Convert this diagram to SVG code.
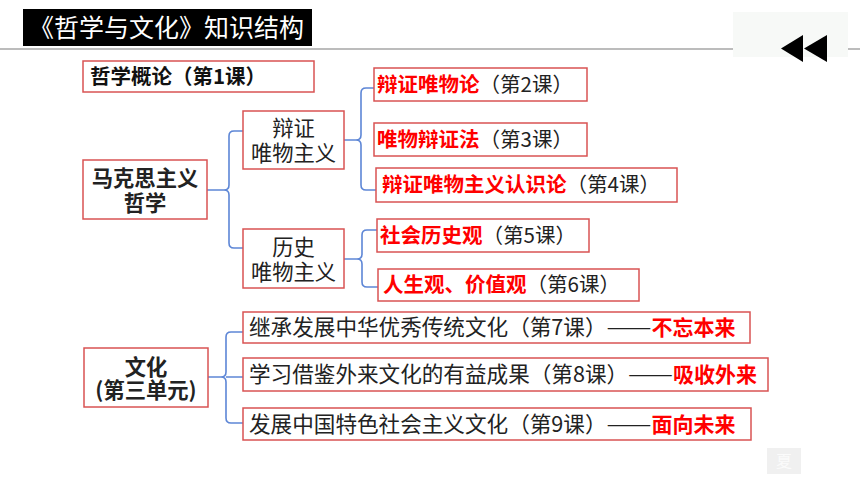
<svg xmlns="http://www.w3.org/2000/svg" width="860" height="484" viewBox="0 0 860 484">
<style>
text{font-family:"Noto Sans CJK SC","Noto Sans",sans-serif;}
.box{fill:#fff;stroke:#d95353;stroke-width:1.5;}
.con{fill:none;stroke:#5d86d6;stroke-width:1.6;}
.t{font-size:20.5px;fill:#222;}
.b{font-weight:bold;fill:#111;}
.r{font-weight:bold;fill:#ff0000;}
.m{font-size:21.6px;fill:#222;}
.m .r{font-size:21px;}
.c{font-size:21.3px;fill:#222;}
</style>
<rect width="860" height="484" fill="#fff"/>
<g id="header">
<line x1="0" y1="49" x2="860" y2="49" stroke="#a6a6a6" stroke-width="1.5"/>
<rect x="23" y="9" width="289" height="37" fill="#000"/>
<text x="29" y="37" font-size="25" fill="#fff">《哲学与文化》知识结构</text>
<rect x="733" y="12" width="115" height="45" fill="#f7f9f7"/>
<polygon points="781,48.5 803,35 803,62" fill="#000"/>
<polygon points="804,48.5 827,35 827,62" fill="#000"/>
</g>
<g id="connectors">
<path class="con" d="M207,190 H224 Q229,190 229,185 V136 Q229,131 234,131 H243 M224,190 Q229,190 229,195 V243 Q229,248 234,248 H243"/>
<path class="con" d="M344,140 H356 Q361,140 361,135 V93 Q361,88 366,88 H374 M356,140 Q361,140 361,145 V185 Q361,190 366,190 H376"/>
<path class="con" d="M344,259 H357 Q362,259 362,254 V235 Q362,230 367,230 H377 M357,259 Q362,259 362,264 V282 Q362,287 367,287 H378"/>
<path class="con" d="M208,377 H221 Q226,377 226,372 V337 Q226,332 231,332 H243 M221,377 Q226,377 226,382 V418 Q226,423 231,423 H243 M226,377 H243"/>
</g>
<g id="n_intro">
<rect class="box" x="83" y="61" width="231" height="31"/>
<text class="t b" x="90" y="83.5" font-size="20">哲学概论（第1课）</text>
</g>
<g id="n_marx">
<rect class="box" x="83" y="160" width="124" height="59"/>
<text class="c b" x="145" y="185.5" text-anchor="middle">马克思主义</text>
<text class="c b" x="145" y="210.5" text-anchor="middle">哲学</text>
</g>
<g id="n_dialectical">
<rect class="box" x="243" y="111" width="101" height="58"/>
<text class="c" x="293.5" y="135.5" text-anchor="middle">辩证</text>
<text class="c" x="293.5" y="160.5" text-anchor="middle">唯物主义</text>
</g>
<g id="n_historical">
<rect class="box" x="243" y="229" width="101" height="59"/>
<text class="c" x="293.5" y="254.5" text-anchor="middle">历史</text>
<text class="c" x="293.5" y="279.5" text-anchor="middle">唯物主义</text>
</g>
<g id="n_l2">
<rect class="box" x="374" y="68" width="213" height="33"/>
<text class="t" x="377" y="91.5"><tspan class="r">辩证唯物论</tspan>（第2课）</text>
</g>
<g id="n_l3">
<rect class="box" x="374" y="123" width="213" height="33"/>
<text class="t" x="377" y="146.5"><tspan class="r">唯物辩证法</tspan>（第3课）</text>
</g>
<g id="n_l4">
<rect class="box" x="376" y="168" width="301" height="34"/>
<text class="t" x="382" y="192"><tspan class="r">辩证唯物主义认识论</tspan>（第4课）</text>
</g>
<g id="n_l5">
<rect class="box" x="377" y="219" width="212" height="33"/>
<text class="t" x="380" y="242.5"><tspan class="r">社会历史观</tspan>（第5课）</text>
</g>
<g id="n_l6">
<rect class="box" x="378" y="269" width="261" height="32"/>
<text class="t" x="383" y="292"><tspan class="r">人生观、价值观</tspan>（第6课）</text>
</g>
<g id="n_culture">
<rect class="box" x="84" y="348" width="124" height="59"/>
<text class="c b" x="146" y="374.5" text-anchor="middle">文化</text>
<text class="c b" x="146" y="397.5" text-anchor="middle">(第三单元)</text>
</g>
<g id="n_l7">
<rect class="box" x="243" y="312" width="507" height="31"/>
<text class="m" x="249" y="335">继承发展中华优秀传统文化（第7课）<tspan textLength="45" lengthAdjust="spacingAndGlyphs">——</tspan><tspan class="r">不忘本来</tspan></text>
</g>
<g id="n_l8">
<rect class="box" x="243" y="358" width="525" height="33"/>
<text class="m" x="249" y="382">学习借鉴外来文化的有益成果（第8课）<tspan textLength="45" lengthAdjust="spacingAndGlyphs">——</tspan><tspan class="r">吸收外来</tspan></text>
</g>
<g id="n_l9">
<rect class="box" x="243" y="408" width="508" height="32"/>
<text class="m" x="249" y="431.5">发展中国特色社会主义文化（第9课）<tspan textLength="45" lengthAdjust="spacingAndGlyphs">——</tspan><tspan class="r">面向未来</tspan></text>
</g>
<g id="watermark">
<rect x="767" y="448" width="34" height="26" fill="#f0f0f0"/>
<text x="784" y="467" font-size="16" fill="#fbfbfb" text-anchor="middle">夏</text>
</g>
</svg>
